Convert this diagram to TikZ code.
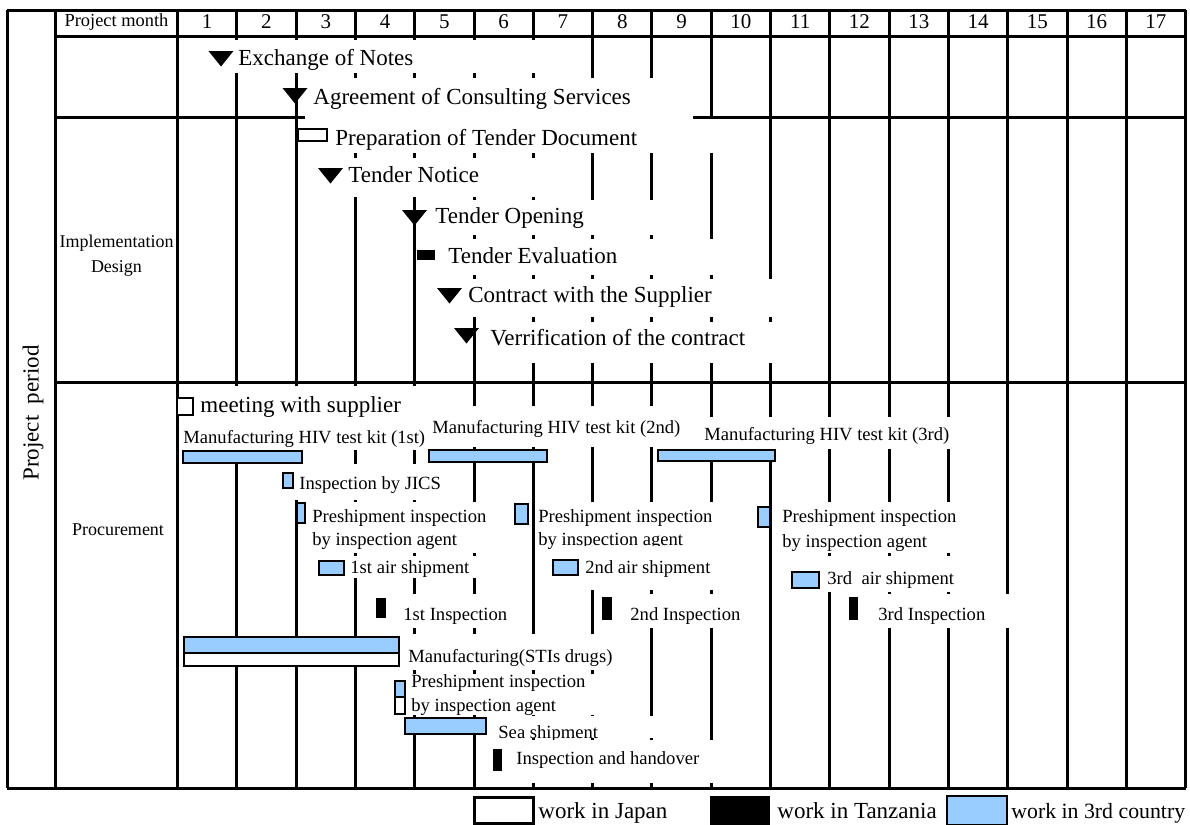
\documentclass[tikz,border=0pt]{standalone}
\usepackage{fontspec}
\setmainfont{Liberation Serif}
\usepackage{tikz}
\usetikzlibrary{calc}
\definecolor{skyfill}{RGB}{153,204,255}
\newcommand{\mstone}[2]{\fill (#1-12.5,#2) -- (#1+12.5,#2) -- (#1,#2+15.5) -- cycle;}

\begin{document}
\begin{tikzpicture}[x=0.5pt,y=-0.5pt,
  grid/.style={line width=1.5pt},
  mask/.style={fill=white},
  big/.style={font=\fontsize{11.5}{13}\selectfont, inner sep=0pt, anchor=base west},
  small/.style={font=\fontsize{9.3}{11}\selectfont, inner sep=0pt, anchor=base west},
  skybox/.style={draw=black, line width=0.6pt, fill=skyfill},
  whitebox/.style={draw=black, line width=0.6pt, fill=white},
  blackbox/.style={fill=black}]
\useasboundingbox (0,0) rectangle (1190,825);

% grid
\foreach \i in {0,...,17}
  \draw[grid] ({177.5+59.3*\i},10) -- ({177.5+59.3*\i},788);
\draw[grid] (7,10) -- (7,788);
\draw[grid] (55,10) -- (55,788);
\draw[grid] (7,10) -- (1186,10);
\draw[grid] (55,36) -- (1186,36);
\draw[grid] (55,117) -- (1186,117);
\draw[grid] (55,382) -- (1186,382);
\draw[grid] (7,788) -- (1186,788);

% header
\node[font=\fontsize{9.2}{11}\selectfont] (pmonth) at (116.5,22) {Project month};
\foreach \m in {1,...,17}
  \node[font=\fontsize{10.5}{12}\selectfont] (mon\m) at ({177.5+59.3*(\m-0.5)},22) {\m};

\node[rotate=90, font=\fontsize{11.5}{13}\selectfont] (period) at (33,413) {Project~ period};
\node[align=center, font=\fontsize{9}{12.5}\selectfont] (impl) at (116.5,256) {Implementation\\Design};
\node[font=\fontsize{9}{11}\selectfont] (proc) at (118,530) {Procurement};

% before implementation design
\fill[mask] (200,40) rectangle (578,73);
\mstone{221}{51}
\node[big] (notes) at (238,65) {Exchange of Notes};
\fill[mask] (305,78) rectangle (693,119);
\mstone{295}{88}
\node[big] (agree) at (313,104) {Agreement of Consulting Services};

% implementation design
\fill[mask] (305,119) rectangle (718,153);
\draw[whitebox] (298,129) rectangle (327,141);
\node[big] (prep) at (335,145) {Preparation of Tender Document};
\fill[mask] (318,158) rectangle (582,197);
\mstone{330.5}{168}
\node[big] (notice) at (348,182) {Tender Notice};
\fill[mask] (420,200) rectangle (700,235);
\mstone{414.5}{210}
\node[big] (opening) at (435,223) {Tender Opening};
\fill[mask] (420,239) rectangle (740,275);
\fill[blackbox] (417,250) rectangle (435,260);
\node[big] (evaluation) at (448,263) {Tender Evaluation};
\fill[mask] (440,279) rectangle (800,317);
\mstone{449.5}{288}
\node[big] (contract) at (468,302) {Contract with the Supplier};
\fill[mask] (478,322) rectangle (800,363);
\mstone{466.5}{328}
\node[big] (verify) at (490,345) {Verrification of the contract};

% procurement
\fill[mask] (183,386) rectangle (425,420);
\draw[whitebox] (177,398) rectangle (193,415);
\node[big] (meeting) at (200,412) {meeting with supplier};
\fill[mask] (183,420) rectangle (428,450);
\node[small] (kit1) at (183,443) {Manufacturing HIV test kit (1st)};
\fill[mask] (428,406) rectangle (698,447);
\node[small] (kit2) at (432,433) {Manufacturing HIV test kit (2nd)};
\fill[mask] (698,417) rectangle (962,449);
\node[small] (kit3) at (704,440) {Manufacturing HIV test kit (3rd)};
\draw[skybox] (183,451) rectangle (302,463);
\draw[skybox] (429,450) rectangle (547,462);
\draw[skybox] (658,450) rectangle (775,461);

\fill[mask] (295,464) rectangle (445,500);
\draw[skybox] (283,473) rectangle (293,488);
\node[small] (jics) at (299,489) {Inspection by JICS};

\fill[mask] (306,502) rectangle (510,553);
\draw[skybox] (297,503) rectangle (305,523);
\node[small] (pre1a) at (312,522) {Preshipment inspection};
\node[small] (pre1b) at (312,545) {by inspection agent};
\fill[mask] (535,502) rectangle (765,550);
\draw[skybox] (515,504) rectangle (528,524);
\node[small] (pre2a) at (538,522) {Preshipment inspection};
\node[small] (pre2b) at (538,545) {by inspection agent};
\fill[mask] (775,502) rectangle (962,553);
\draw[skybox] (758,507) rectangle (770,527);
\node[small] (pre3a) at (782,522) {Preshipment inspection};
\node[small] (pre3b) at (782,547) {by inspection agent};

\fill[mask] (346,556) rectangle (480,578);
\draw[skybox] (319,561) rectangle (344,575);
\node[small] (air1) at (350,573) {1st air shipment};
\fill[mask] (580,546) rectangle (720,590);
\draw[skybox] (553,560) rectangle (578,575);
\node[small] (air2) at (585,573) {2nd air shipment};
\fill[mask] (822,556) rectangle (962,592);
\draw[skybox] (792,572) rectangle (819,588);
\node[small] (air3) at (827,584) {3rd\ \ air shipment};

\fill[mask] (392,594) rectangle (512,628);
\fill[blackbox] (376,598) rectangle (386,618);
\node[small] (insp1) at (403,620) {1st Inspection};
\fill[mask] (620,594) rectangle (745,628);
\fill[blackbox] (602,597) rectangle (612,620);
\node[small] (insp2) at (630,620) {2nd Inspection};
\fill[mask] (866,594) rectangle (1010,628);
\fill[blackbox] (849,597) rectangle (858,620);
\node[small] (insp3) at (878,620) {3rd Inspection};

\fill[mask] (403,634) rectangle (620,670);
\draw[skybox] (184,637) rectangle (399,653);
\draw[whitebox] (184,653) rectangle (399,666);
\node[small] (drugs) at (408,662) {Manufacturing(STIs drugs)};
\fill[mask] (407,674) rectangle (600,715);
\draw[skybox] (395,681) rectangle (405,697);
\draw[whitebox] (395,697) rectangle (405,714);
\node[small] (pre4a) at (411,687) {Preshipment inspection};
\node[small] (pre4b) at (411,711) {by inspection agent};
\fill[mask] (488,716) rectangle (655,738);
\draw[skybox] (405,718) rectangle (486,734);
\node[small] (sea) at (498,738) {Sea shipment};
\fill[mask] (505,740) rectangle (715,783);
\fill[blackbox] (493,749) rectangle (502,771);
\node[small] (handover) at (516,764) {Inspection and handover};

% legend
\draw[line width=1.5pt, fill=white] (474,797) rectangle (533,823);
\node[big] (japan) at (538,818) {work in Japan};
\fill[blackbox] (710,796) rectangle (770,825);
\node[big] (tanzania) at (777,818) {work in Tanzania};
\draw[skybox] (947,796) rectangle (1007,825);
\node[big, font=\fontsize{10.9}{13}\selectfont] (third) at (1011,818) {work in 3rd country};
\end{tikzpicture}
\end{document}
